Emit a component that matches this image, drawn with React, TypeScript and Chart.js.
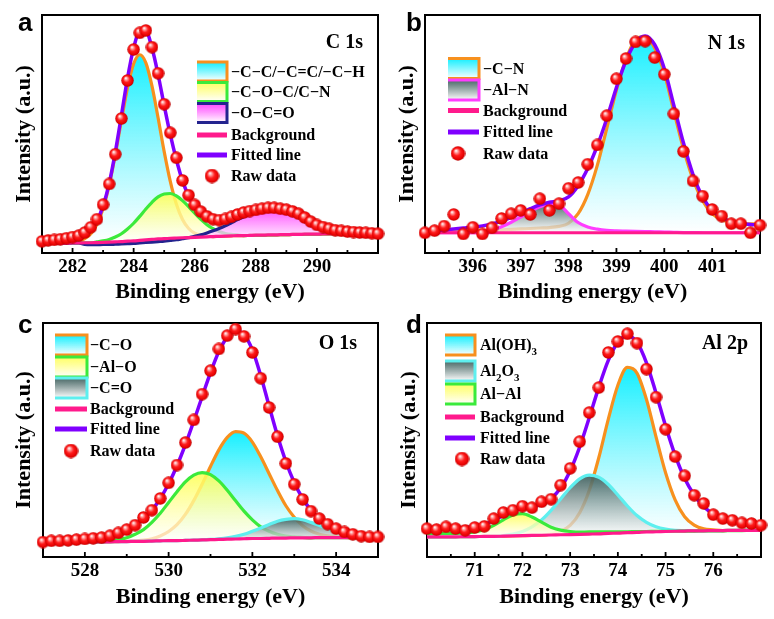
import React, { useEffect, useRef } from "react";
import { Chart, registerables } from "chart.js";
Chart.register(...registerables);

const SERIF = '"Liberation Serif", "Times New Roman", serif';
const SANS = '"Liberation Sans", Arial, sans-serif';

// ---------- Panel a : C 1s ----------
const aEnergy = [281.0,281.2,281.4,281.6,281.8,282.0,282.2,282.4,282.6,282.8,283.0,283.2,283.4,283.6,283.8,284.0,284.2,284.4,284.6,284.8,285.0,285.2,285.4,285.6,285.8,286.0,286.2,286.4,286.6,286.8,287.0,287.2,287.4,287.6,287.8,288.0,288.2,288.4,288.6,288.8,289.0,289.2,289.4,289.6,289.8,290.0,290.2,290.4,290.6,290.8,291.0,291.2,291.4,291.6,291.8,292.0];
const aRaw = [4.9,5.3,5.5,5.8,6.2,6.7,7.3,8.6,10.8,14.2,20.3,29.0,41.5,56.5,72.5,85.5,92.5,93.5,86.5,75.5,62.5,50.5,40.0,30.5,24.3,20.2,17.4,15.4,14.2,13.8,14.3,15.2,16.2,17.0,17.6,18.1,18.6,19.0,19.0,18.6,18.2,17.5,16.5,14.9,13.2,11.8,10.9,10.2,9.6,9.3,9.0,8.8,8.6,8.5,8.3,8.1];
const aFit = [4.5,4.8,5.1,5.4,5.8,6.3,6.9,8.0,10.0,13.5,19.8,29.3,42.4,57.8,73.5,86.2,93.0,93.2,86.2,75.0,62.0,49.7,39.2,30.3,24.0,19.7,16.7,14.7,13.5,13.1,13.4,14.3,15.3,16.1,17.0,17.8,18.4,18.8,18.8,18.5,17.9,17.2,16.1,14.8,13.3,12.0,11.1,10.4,9.7,9.2,8.9,8.6,8.4,8.3,8.1,8.0];
const aBg = [4.0,4.0,4.0,4.1,4.1,4.2,4.2,4.3,4.3,4.4,4.5,4.6,4.7,4.8,5.0,5.1,5.3,5.5,5.7,5.9,6.0,6.2,6.3,6.4,6.5,6.6,6.7,6.8,6.9,7.0,7.1,7.2,7.3,7.3,7.4,7.5,7.5,7.6,7.6,7.7,7.7,7.8,7.8,7.9,7.9,7.9,8.0,8.0,8.0,8.0,8.0,8.0,8.0,8.0,8.0,8.0];
const aCC = [4.0,4.0,4.0,4.1,4.1,4.5,4.9,6.0,8.1,12.1,18.7,28.5,41.3,55.7,69.5,79.5,83.3,79.9,70.2,56.8,42.6,30.1,20.5,14.1,10.3,8.3,7.4,7.1,6.9,7.0,7.1,7.2,7.3,7.3,7.4,7.5,7.5,7.6,7.6,7.7,7.7,7.8,7.8,7.9,7.9,7.9,8.0,8.0,8.0,8.0,8.0,8.0,8.0,8.0,8.0,8.0];
const aCOC = [4.0,4.0,4.0,4.1,4.1,4.2,4.2,4.3,4.3,4.7,5.1,5.7,6.7,8.1,10.1,12.5,15.4,18.5,21.3,23.6,24.8,25.0,24.0,22.0,19.5,16.7,14.1,11.9,10.2,9.0,8.2,7.8,7.6,7.3,7.4,7.5,7.5,7.6,7.6,7.7,7.7,7.8,7.8,7.9,7.9,7.9,8.0,8.0,8.0,8.0,8.0,8.0,8.0,8.0,8.0,8.0];
const aOCO = [4.0,4.0,4.0,4.1,4.1,4.2,4.2,3.6,3.5,3.5,3.6,3.6,3.7,3.8,3.9,4.0,4.2,4.4,4.6,4.8,5.0,5.3,5.6,6.0,6.4,7.0,7.6,8.4,9.3,10.3,11.4,12.7,14.0,15.2,16.4,17.4,18.1,18.6,18.6,18.3,17.6,16.8,15.7,14.6,13.4,12.2,11.3,10.5,9.8,9.2,8.8,8.5,8.3,8.2,8.0,8.0];
const aTicks = [282, 284, 286, 288, 290];
const aMinor = [283, 285, 287, 289, 291];

// ---------- Panel b : N 1s ----------
const bEnergy = [395.0,395.2,395.4,395.6,395.8,396.0,396.2,396.4,396.6,396.8,397.0,397.2,397.4,397.6,397.8,398.0,398.2,398.4,398.6,398.8,399.0,399.2,399.4,399.6,399.8,400.0,400.2,400.4,400.6,400.8,401.0,401.2,401.4,401.6,401.8,402.0];
const bRaw = [8.5,9.4,11.3,16.2,8.0,10.8,8.0,10.6,14.5,16.5,17.9,16.2,22.8,17.9,20.7,27.2,29.6,37.3,45.4,57.7,73.2,81.7,88.7,89.0,82.1,75.1,58.5,42.7,30.3,23.9,18.3,15.5,12.3,12.3,8.5,11.7];
const bFit = [9.0,9.3,9.7,10.1,10.5,10.9,11.4,12.2,13.4,15.0,16.8,18.6,20.2,21.3,21.9,23.6,28.3,35.5,45.0,56.5,69.5,80.8,88.5,91.2,87.5,77.5,62.0,46.3,33.0,23.6,17.9,14.8,13.2,12.4,12.0,11.8];
const bBg = [8.5,8.5,8.5,8.5,8.5,8.5,8.5,8.5,8.5,8.5,8.5,8.5,8.5,8.5,8.5,8.5,8.5,8.5,8.5,8.5,8.5,8.5,8.5,8.5,8.5,8.5,8.5,8.5,8.5,8.5,8.5,8.5,8.5,8.5,8.5,8.5];
const bCN = [8.6,8.7,8.8,8.9,9.0,9.1,9.3,9.5,9.7,9.9,10.1,10.3,10.5,10.7,11.2,12.5,16.5,24.5,36.8,52.5,68.5,81.5,89.6,91.0,86.0,75.5,59.5,43.8,31.0,22.0,16.6,14.0,12.9,12.4,12.3,12.3];
const bAlN = [8.5,8.5,8.5,8.5,8.5,8.5,8.8,9.6,11.0,12.9,15.1,17.4,19.4,20.6,20.2,16.5,12.8,10.9,10.0,9.5,9.3,9.2,9.1,9.0,8.9,8.8,8.7,8.6,8.6,8.5,8.5,8.5,8.5,8.5,8.5,8.5];
const bTicks = [396, 397, 398, 399, 400, 401];
const bMinor = [395.5, 396.5, 397.5, 398.5, 399.5, 400.5, 401.5];

// ---------- Panel c : O 1s ----------
const cEnergy = [527.0,527.2,527.4,527.6,527.8,528.0,528.2,528.4,528.6,528.8,529.0,529.2,529.4,529.6,529.8,530.0,530.2,530.4,530.6,530.8,531.0,531.2,531.4,531.6,531.8,532.0,532.2,532.4,532.6,532.8,533.0,533.2,533.4,533.6,533.8,534.0,534.2,534.4,534.6,534.8,535.0];
const cRaw = [6.4,6.9,6.9,7.1,7.4,7.7,8.0,8.3,9.1,10.3,11.7,13.6,16.9,20.0,25.0,31.7,39.3,48.9,58.6,69.6,79.6,88.9,94.6,97.4,94.3,87.4,76.4,63.9,51.4,40.0,31.1,24.6,19.6,16.4,14.0,12.1,10.7,9.7,8.9,8.6,8.6];
const cFit = [6.5,6.7,6.9,7.1,7.4,7.7,8.0,8.5,9.2,10.2,11.6,13.6,16.4,20.0,25.0,31.3,39.0,48.0,58.0,68.5,78.8,87.8,94.0,96.8,95.0,88.5,77.5,64.5,51.8,40.8,31.8,25.0,20.0,16.4,13.9,12.1,10.8,9.8,9.1,8.7,8.5];
const cBg = [6.4,6.4,6.4,6.4,6.4,6.4,6.5,6.5,6.5,6.6,6.6,6.7,6.7,6.8,6.9,7.0,7.0,7.1,7.2,7.3,7.4,7.5,7.6,7.7,7.8,7.9,7.9,8.0,8.1,8.1,8.2,8.2,8.2,8.3,8.3,8.3,8.3,8.3,8.3,8.3,8.3];
const cCO = [6.4,6.4,6.4,6.4,6.4,6.4,6.5,6.5,6.5,6.6,6.7,6.9,7.2,7.8,9.0,10.9,13.8,18.2,24.1,31.1,38.7,45.8,51.1,53.6,52.9,49.1,42.8,35.6,28.4,21.9,17.0,13.4,11.1,9.7,9.0,8.6,8.4,8.3,8.3,8.3,8.3];
const cAlO = [6.4,6.4,6.4,6.4,6.4,6.4,6.5,6.5,6.9,7.4,8.2,9.7,11.7,14.8,18.7,23.3,27.9,32.1,35.0,36.1,35.2,32.5,28.5,24.0,19.6,15.9,12.9,11.0,9.7,8.9,8.6,8.4,8.2,8.3,8.3,8.3,8.3,8.3,8.3,8.3,8.3];
const cCdO = [6.4,6.4,6.4,6.4,6.4,6.4,6.5,6.5,6.5,6.6,6.6,6.7,6.7,6.8,6.9,7.0,7.0,7.1,7.2,7.3,7.5,7.8,8.2,8.8,9.7,11.0,12.4,13.9,15.3,16.1,16.4,15.9,14.8,13.5,12.0,10.8,9.8,9.1,8.7,8.5,8.4];
const cTicks = [528, 530, 532, 534];
const cMinor = [529, 531, 533];

// ---------- Panel d : Al 2p ----------
const dEnergy = [70.0,70.2,70.4,70.6,70.8,71.0,71.2,71.4,71.6,71.8,72.0,72.2,72.4,72.6,72.8,73.0,73.2,73.4,73.6,73.8,74.0,74.2,74.4,74.6,74.8,75.0,75.2,75.4,75.6,75.8,76.0,76.2,76.4,76.6,76.8,77.0];
const dRaw = [12.1,11.7,12.9,12.1,11.4,12.6,13.1,16.4,19.0,20.0,21.7,21.1,23.6,24.7,30.7,37.9,49.3,61.7,72.4,87.4,92.1,95.4,91.4,80.3,68.3,54.6,42.9,34.7,26.4,22.9,18.1,16.4,15.7,14.6,14.3,13.6];
const dFit = [12.2,12.3,12.4,12.5,12.6,13.0,13.9,15.6,17.8,19.6,20.8,21.6,22.6,25.0,29.5,36.8,47.0,59.5,72.5,84.0,91.8,94.6,91.8,83.0,70.0,56.0,43.5,33.5,26.5,21.5,18.5,16.6,15.4,14.6,14.1,13.8];
const dBg = [8.6,8.6,8.6,8.6,8.7,8.7,8.8,8.8,8.9,9.0,9.1,9.2,9.3,9.4,9.5,9.6,9.7,9.8,9.9,10.1,10.2,10.4,10.5,10.7,10.8,10.9,11.0,11.1,11.2,11.2,11.3,11.3,11.4,11.4,11.4,11.4];
const dAlOH = [8.6,8.6,8.6,8.6,8.7,8.7,8.8,8.8,8.9,9.0,9.1,9.2,9.3,9.9,11.0,13.5,18.9,28.4,42.4,58.9,73.4,81.0,78.6,67.3,51.3,36.0,24.4,17.2,13.6,12.0,11.6,11.3,11.4,11.4,11.4,11.4];
const dAl2O3 = [8.6,8.6,8.6,8.6,8.7,8.7,8.8,8.8,9.2,9.8,10.9,12.9,15.8,19.9,24.8,29.6,33.4,35.0,34.1,31.0,26.5,21.8,17.7,14.8,12.9,11.9,11.4,11.3,11.2,11.2,11.3,11.3,11.4,11.4,11.4,11.4];
const dAlAl = [10.0,10.0,10.1,10.1,10.3,10.7,11.6,13.5,15.9,18.0,18.5,17.1,14.9,12.7,11.5,10.9,10.6,10.7,10.7,10.8,10.8,10.8,10.9,10.9,11.0,11.0,11.0,11.1,11.1,11.2,11.2,11.2,11.3,11.3,11.4,11.4];
const dTicks = [71, 72, 73, 74, 75, 76];
const dMinor = [70.5, 71.5, 72.5, 73.5, 74.5, 75.5, 76.5];

// ---------- styles ----------
const ORANGE = "#F7901E";
const GREEN = "#3BEA3B";
const NAVY = "#23238E";
const MAGENTA = "#FF3CFF";
const CYANLINE = "#5EEFEF";
const PINK = "#FF1A8C";
const PURPLE = "#7F00FF";
const CYAN_FILL = "rgba(0,238,255,0.92)";
const YELLOW_FILL = "rgba(255,255,80,0.88)";
const MAGENTA_FILL = "rgba(255,50,255,0.88)";
const GRAY_FILL = "rgba(58,92,90,0.92)";

type Comp = { label: string; values: number[]; line: string; fill: string };
type Panel = {
  energy: number[]; raw: number[]; fit: number[]; bg: number[]; comps: Comp[];
  xMin: number; xMax: number; ticks: number[]; minor: number[];
  letter: string; name: string;
  geom: { left: number; top: number; w: number; h: number; padL: number; padR: number; padT: number; xH: number };
  text: { letterX: number; letterY: number; nameX: number; nameY: number; yTitleX: number; xTitleY: number };
  legend: { boxX: number; boxW: number; boxH: number; textX: number; sphereX: number; rows: number[] };
};

const panels: Panel[] = [
  {
    energy: aEnergy, raw: aRaw, fit: aFit, bg: aBg,
    comps: [
      { label: "−C−C/−C=C/−C−H", values: aCC, line: ORANGE, fill: CYAN_FILL },
      { label: "−C−O−C/C−N", values: aCOC, line: GREEN, fill: YELLOW_FILL },
      { label: "−O−C=O", values: aOCO, line: NAVY, fill: MAGENTA_FILL },
    ],
    xMin: 281, xMax: 292, ticks: aTicks, minor: aMinor, letter: "a", name: "C 1s",
    geom: { left: 0, top: 0, w: 387, h: 309, padL: 42, padR: 9, padT: 15, xH: 56 },
    text: { letterX: 18, letterY: 31, nameX: 363, nameY: 48, yTitleX: 24, xTitleY: 298 },
    legend: { boxX: 197, boxW: 30, boxH: 19, textX: 231, sphereX: 212, rows: [71.5, 92, 113, 135, 155, 176] },
  },
  {
    energy: bEnergy, raw: bRaw, fit: bFit, bg: bBg,
    comps: [
      { label: "−C−N", values: bCN, line: ORANGE, fill: CYAN_FILL },
      { label: "−Al−N", values: bAlN, line: MAGENTA, fill: GRAY_FILL },
    ],
    xMin: 395, xMax: 402, ticks: bTicks, minor: bMinor, letter: "b", name: "N 1s",
    geom: { left: 387, top: 0, w: 387, h: 309, padL: 38, padR: 14, padT: 15, xH: 56 },
    text: { letterX: 19, letterY: 31, nameX: 358, nameY: 49, yTitleX: 20, xTitleY: 298 },
    legend: { boxX: 61, boxW: 31, boxH: 20, textX: 96, sphereX: 71, rows: [68.5, 90, 110.5, 132, 153.5] },
  },
  {
    energy: cEnergy, raw: cRaw, fit: cFit, bg: cBg,
    comps: [
      { label: "−C−O", values: cCO, line: ORANGE, fill: CYAN_FILL },
      { label: "−Al−O", values: cAlO, line: GREEN, fill: YELLOW_FILL },
      { label: "−C=O", values: cCdO, line: CYANLINE, fill: GRAY_FILL },
    ],
    xMin: 527, xMax: 535, ticks: cTicks, minor: cMinor, letter: "c", name: "O 1s",
    geom: { left: 0, top: 309, w: 387, h: 310, padL: 43, padR: 9, padT: 14, xH: 62 },
    text: { letterX: 18, letterY: 24, nameX: 357, nameY: 40, yTitleX: 24, xTitleY: 294 },
    legend: { boxX: 55, boxW: 32, boxH: 20, textX: 90, sphereX: 71, rows: [36, 58, 79, 100, 120, 142] },
  },
  {
    energy: dEnergy, raw: dRaw, fit: dFit, bg: dBg,
    comps: [
      { label: "Al(OH)_3", values: dAlOH, line: ORANGE, fill: CYAN_FILL },
      { label: "Al_2O_3", values: dAl2O3, line: CYANLINE, fill: GRAY_FILL },
      { label: "Al−Al", values: dAlAl, line: GREEN, fill: YELLOW_FILL },
    ],
    xMin: 70, xMax: 77, ticks: dTicks, minor: dMinor, letter: "d", name: "Al 2p",
    geom: { left: 387, top: 309, w: 387, h: 310, padL: 40, padR: 13, padT: 14, xH: 62 },
    text: { letterX: 19, letterY: 24, nameX: 361, nameY: 40, yTitleX: 22, xTitleY: 294 },
    legend: { boxX: 58, boxW: 30, boxH: 20, textX: 93, sphereX: 75, rows: [36, 62, 85, 108, 129, 150] },
  },
];

function makeSphere(d: number): HTMLCanvasElement {
  const c = document.createElement("canvas");
  c.width = d; c.height = d;
  const g = c.getContext("2d")!;
  const r = d / 2;
  const grad = g.createRadialGradient(r * 0.72, r * 0.62, r * 0.04, r, r, r);
  grad.addColorStop(0, "#ffffff");
  grad.addColorStop(0.2, "#ff9c9c");
  grad.addColorStop(0.48, "#ff1c1c");
  grad.addColorStop(0.85, "#e40000");
  grad.addColorStop(1, "#a80000");
  g.fillStyle = grad;
  g.beginPath(); g.arc(r, r, r - 0.3, 0, Math.PI * 2); g.fill();
  return c;
}

function drawRich(ctx: CanvasRenderingContext2D, text: string, x: number, cy: number, size: number) {
  const parts: { t: string; sub: boolean }[] = [];
  for (let i = 0; i < text.length; i++) {
    if (text[i] === "_") { parts.push({ t: text[i + 1], sub: true }); i++; }
    else if (parts.length && !parts[parts.length - 1].sub) parts[parts.length - 1].t += text[i];
    else parts.push({ t: text[i], sub: false });
  }
  const base = cy + size * 0.34;
  let cx = x;
  ctx.textAlign = "left";
  ctx.textBaseline = "alphabetic";
  for (const p of parts) {
    ctx.font = `bold ${p.sub ? Math.round(size * 0.68) : size}px ${SERIF}`;
    ctx.fillText(p.t, cx, p.sub ? base + size * 0.28 : base);
    cx += ctx.measureText(p.t).width;
  }
}

function decorPlugin(p: Panel, legendSphere: HTMLCanvasElement) {
  return {
    id: "decor",
    beforeDatasetsDraw(chart: any) {
      const { ctx, chartArea: a, scales } = chart;
      const x = scales.x;
      ctx.save();
      ctx.strokeStyle = "#000";
      ctx.lineWidth = 2;
      ctx.strokeRect(a.left, a.top, a.right - a.left, a.bottom - a.top);
      ctx.lineWidth = 1.8;
      ctx.beginPath();
      p.ticks.forEach((v) => { const px = x.getPixelForValue(v); ctx.moveTo(px, a.bottom); ctx.lineTo(px, a.bottom - 5); });
      p.minor.forEach((v) => { const px = x.getPixelForValue(v); ctx.moveTo(px, a.bottom); ctx.lineTo(px, a.bottom - 3); });
      ctx.stroke();
      ctx.restore();
    },
    afterDraw(chart: any) {
      const { ctx, chartArea: a } = chart;
      const t = p.text;
      ctx.save();
      ctx.fillStyle = "#000";
      ctx.font = `bold 26px ${SANS}`;
      ctx.textAlign = "left"; ctx.textBaseline = "alphabetic";
      ctx.fillText(p.letter, t.letterX, t.letterY);
      ctx.font = `bold 20px ${SERIF}`;
      ctx.textAlign = "right";
      ctx.fillText(p.name, t.nameX, t.nameY);
      ctx.font = `bold 22px ${SERIF}`;
      ctx.textAlign = "center";
      ctx.fillText("Binding energy (eV)", (a.left + a.right) / 2, t.xTitleY);
      ctx.save();
      ctx.translate(t.yTitleX, (a.top + a.bottom) / 2);
      ctx.rotate(-Math.PI / 2);
      ctx.textAlign = "center"; ctx.textBaseline = "middle";
      ctx.fillText("Intensity (a.u.)", 0, 0);
      ctx.restore();
      const L = p.legend;
      p.comps.forEach((c, i) => {
        const cy = L.rows[i];
        const top = cy - L.boxH / 2, bot = cy + L.boxH / 2;
        const g = ctx.createLinearGradient(0, top, 0, bot);
        g.addColorStop(0, c.fill);
        g.addColorStop(1, "#ffffff");
        ctx.fillStyle = g;
        ctx.fillRect(L.boxX, top, L.boxW, bot - top);
        ctx.strokeStyle = c.line;
        ctx.lineWidth = 3;
        ctx.beginPath();
        ctx.moveTo(L.boxX, top); ctx.lineTo(L.boxX + L.boxW, top);
        ctx.lineTo(L.boxX + L.boxW, bot); ctx.lineTo(L.boxX, bot);
        ctx.stroke();
        ctx.fillStyle = "#000";
        drawRich(ctx, c.label, L.textX, cy, 16);
      });
      const n = p.comps.length;
      const lineRow = (label: string, color: string, cy: number) => {
        ctx.strokeStyle = color; ctx.lineWidth = 5; ctx.lineCap = "butt";
        ctx.beginPath(); ctx.moveTo(L.boxX, cy); ctx.lineTo(L.boxX + L.boxW, cy); ctx.stroke();
        ctx.fillStyle = "#000";
        drawRich(ctx, label, L.textX, cy, 16);
      };
      lineRow("Background", PINK, L.rows[n]);
      lineRow("Fitted line", PURPLE, L.rows[n + 1]);
      const sy = L.rows[n + 2];
      ctx.drawImage(legendSphere, L.sphereX - legendSphere.width / 2, sy - legendSphere.height / 2);
      ctx.fillStyle = "#000";
      drawRich(ctx, "Raw data", L.textX, sy, 16);
      ctx.restore();
    },
  };
}

function gradFill(top: string, values: number[], base: number[]) {
  return (ctx: any) => {
    const chart = ctx.chart;
    if (!chart.chartArea) return "rgba(0,0,0,0)";
    const y = chart.scales.y;
    const yTop = y.getPixelForValue(Math.max(...values));
    const yBot = y.getPixelForValue(Math.min(...base));
    const g = chart.ctx.createLinearGradient(0, yTop, 0, Math.max(yBot, yTop + 1));
    g.addColorStop(0, top);
    g.addColorStop(1, "rgba(255,255,255,0.7)");
    return g;
  };
}

function buildConfig(p: Panel, sphere: HTMLCanvasElement, legendSphere: HTMLCanvasElement): any {
  const xy = (arr: number[]) => p.energy.map((x, i) => ({ x, y: arr[i] }));
  const lineDs = (label: string, arr: number[], color: string, order: number, width: number, extra: any = {}) => ({
    label, data: xy(arr), borderColor: color, borderWidth: width, pointRadius: 0,
    cubicInterpolationMode: "monotone", fill: false, order, ...extra,
  });
  const datasets: any[] = [
    { label: "Raw data", data: xy(p.raw), showLine: false, pointStyle: sphere, pointRadius: 7, clip: false, order: 0 },
    lineDs("Fitted line", p.fit, PURPLE, 1, 3.5),
    lineDs("Background", p.bg, PINK, 2, 3.2),
    ...p.comps.map((c, k) =>
      lineDs(c.label, c.values, c.line, 10 - k, 3.2, { fill: 2, backgroundColor: gradFill(c.fill, c.values, p.bg) })
    ),
  ];
  const g = p.geom;
  return {
    type: "line",
    data: { datasets },
    options: {
      animation: false,
      responsive: false,
      devicePixelRatio: 1,
      events: [],
      layout: { padding: { left: g.padL, right: g.padR, top: g.padT, bottom: 0 } },
      plugins: { legend: { display: false }, tooltip: { enabled: false } },
      scales: {
        x: {
          type: "linear", min: p.xMin, max: p.xMax,
          grid: { display: false, drawTicks: false },
          border: { display: false },
          ticks: { color: "#000", padding: 3, autoSkip: false, maxRotation: 0, font: { family: SERIF, size: 19, weight: "bold" } },
          afterBuildTicks: (s: any) => { s.ticks = p.ticks.map((v) => ({ value: v })); },
          afterFit: (s: any) => { s.height = g.xH; },
        },
        y: { type: "linear", min: 0, max: 100, display: false },
      },
    },
    plugins: [decorPlugin(p, legendSphere)],
  };
}

function PanelChart({ p }: { p: Panel }) {
  const ref = useRef<HTMLCanvasElement>(null);
  useEffect(() => {
    const sphere = makeSphere(13);
    const legendSphere = makeSphere(15);
    const chart = new Chart(ref.current!, buildConfig(p, sphere, legendSphere));
    return () => chart.destroy();
  }, [p]);
  const g = p.geom;
  return (
    <div style={{ position: "absolute", left: g.left, top: g.top, width: g.w, height: g.h }}>
      <canvas ref={ref} width={g.w} height={g.h} style={{ width: g.w, height: g.h, display: "block" }} />
    </div>
  );
}

export default function App() {
  return (
    <div style={{ position: "absolute", left: 0, top: 0, width: 774, height: 619, background: "#fff", overflow: "hidden" }}>
      {panels.map((p) => (
        <PanelChart key={p.letter} p={p} />
      ))}
    </div>
  );
}
